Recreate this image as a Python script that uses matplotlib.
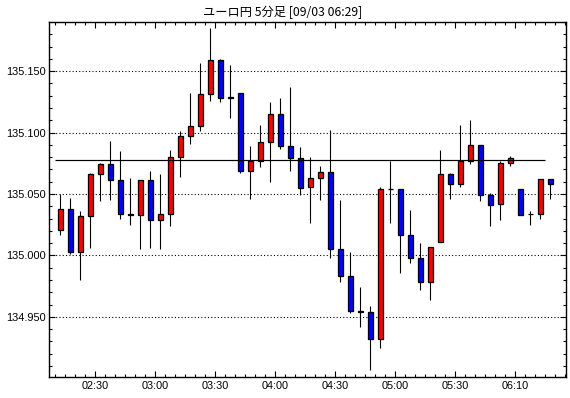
import matplotlib
matplotlib.use('Agg')
import matplotlib.pyplot as plt
from matplotlib.ticker import MultipleLocator, FixedLocator, FormatStrFormatter

# ---- data ----
title = "ユーロ円 5分足 [09/03 06:29]"

# 5-minute candle times: 02:10 .. 05:55, then 06:10 .. 06:25 (break at 06:00)
times = []
t = 2 * 60 + 10
while t <= 5 * 60 + 55:
    times.append(f"{t // 60:02d}:{t % 60:02d}")
    t += 5
t = 6 * 60 + 10
while t <= 6 * 60 + 25:
    times.append(f"{t // 60:02d}:{t % 60:02d}")
    t += 5

opens = [135.021, 135.038, 135.003, 135.032, 135.066, 135.074, 135.061, 135.034, 135.033, 135.061,
         135.029, 135.034, 135.080, 135.097, 135.105, 135.131, 135.159, 135.1292, 135.132, 135.069,
         135.077, 135.092, 135.115, 135.089, 135.079, 135.056, 135.063, 135.068, 135.005, 134.983,
         134.9548, 134.954, 134.932, 135.0543, 135.054, 135.017, 134.998, 134.978, 135.011, 135.066,
         135.058, 135.077, 135.090, 135.049, 135.042, 135.075, 135.054, 135.0337, 135.034, 135.062]
highs = [135.050, 135.047, 135.036, 135.067, 135.075, 135.093, 135.085, 135.063, 135.061, 135.069,
         135.066, 135.086, 135.101, 135.132, 135.157, 135.185, 135.160, 135.155, 135.132, 135.089,
         135.106, 135.125, 135.128, 135.137, 135.088, 135.080, 135.073, 135.102, 135.045, 135.003,
         134.974, 134.959, 135.056, 135.077, 135.054, 135.037, 135.010, 135.007, 135.086, 135.067,
         135.106, 135.110, 135.090, 135.051, 135.077, 135.081, 135.054, 135.036, 135.062, 135.062]
lows = [135.017, 135.001, 134.980, 135.006, 135.044, 135.045, 135.030, 135.025, 135.005, 135.006,
        135.005, 135.024, 135.064, 135.091, 135.101, 135.126, 135.125, 135.112, 135.067, 135.046,
        135.072, 135.060, 135.087, 135.069, 135.049, 135.026, 135.045, 134.998, 134.978, 134.953,
        134.942, 134.907, 134.925, 135.026, 134.986, 134.994, 134.972, 134.964, 135.011, 135.046,
        135.056, 135.074, 135.044, 135.024, 135.029, 135.073, 135.033, 135.025, 135.030, 135.046]
closes = [135.038, 135.003, 135.032, 135.066, 135.074, 135.061, 135.034, 135.033, 135.061, 135.029,
          135.034, 135.080, 135.097, 135.105, 135.131, 135.159, 135.128, 135.1285, 135.069, 135.077,
          135.092, 135.115, 135.089, 135.079, 135.055, 135.063, 135.068, 135.005, 134.983, 134.955,
          134.9542, 134.932, 135.054, 135.0543, 135.017, 134.998, 134.978, 135.007, 135.066, 135.058,
          135.077, 135.090, 135.049, 135.041, 135.075, 135.079, 135.033, 135.0333, 135.062, 135.058]
ref_level = 135.078
tick_labels = ['02:30', '03:00', '03:30', '04:00', '04:30', '05:00', '05:30', '06:10']

# ---- figure ----
W, H = 570, 398
fig = plt.figure(figsize=(W / 100, H / 100), dpi=100)
fig.patch.set_facecolor('white')
L, R, T, B = 49.3, 565.7, 22, 377
ax = fig.add_axes([L / W, 1 - B / H, (R - L) / W, (B - T) / H])

px = 0.72
xs = list(range(len(opens)))
for x, o, h, l, c in zip(xs, opens, highs, lows, closes):
    ax.vlines(x, l, h, color='black', linewidth=px * 1.1, zorder=2)
    col = '#ff0000' if c >= o else '#0000ff'
    ax.bar(x, abs(c - o), bottom=min(o, c), width=0.55, color=col,
           edgecolor='black', linewidth=px * 1.3, zorder=3)

ax.hlines(ref_level, -0.5, 48.5, color='black', linewidth=px * 1.2, zorder=4)

ax.set_xlim(-1.1, 50.54)
ax.set_ylim(134.901, 135.190)

ax.yaxis.set_major_locator(MultipleLocator(0.05))
ax.yaxis.set_minor_locator(MultipleLocator(0.01))
ax.yaxis.set_major_formatter(FormatStrFormatter('%.3f'))

major_pos = [times.index(lbl) - 0.5 for lbl in tick_labels]
ax.xaxis.set_major_locator(FixedLocator(major_pos))
ax.set_xticklabels(tick_labels)
ax.xaxis.set_minor_locator(MultipleLocator(1.0, offset=0.5))

ax.grid(axis='y', which='major', color='black', linestyle=(0, (1, 2)), linewidth=px * 1.1, zorder=1)

ax.tick_params(which='both', direction='in', top=True, right=True, color='black', width=px * 1.1)
ax.tick_params(which='major', length=4)
ax.tick_params(which='minor', length=2.2)
ax.tick_params(axis='y', which='major', pad=2.5, labelsize=7.9)
ax.tick_params(axis='x', which='major', pad=3, labelsize=7.8)
for lab in ax.get_xticklabels() + ax.get_yticklabels():
    lab.set_family(['Liberation Sans', 'DejaVu Sans'])
for sp in ax.spines.values():
    sp.set_linewidth(1.0)
    sp.set_color('black')

fig.text(0.495, 1 - 12.5 / H, title, ha='center', va='center', fontsize=8.8,
         family=['Noto Sans CJK JP', 'DejaVu Sans'])

fig.savefig('out.png', dpi=100)
